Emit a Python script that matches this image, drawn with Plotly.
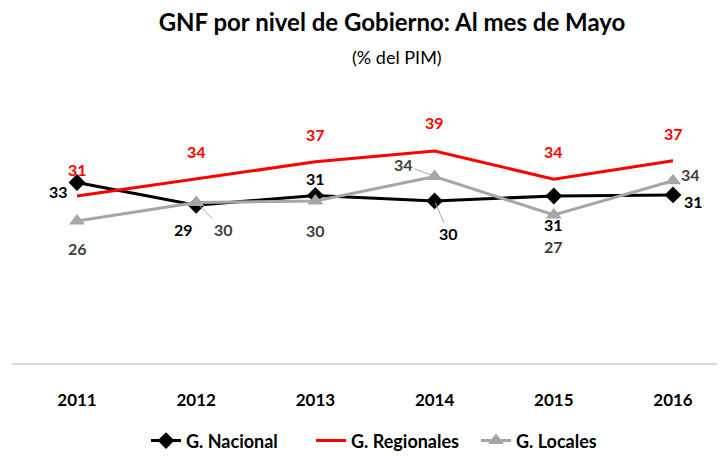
import plotly.graph_objects as go

years = ["2011", "2012", "2013", "2014", "2015", "2016"]
nacional = [33.3, 29.1, 30.9, 29.9, 30.8, 31.0]
regionales = [30.8, 34.0, 37.1, 39.1, 33.9, 37.3]
locales = [26.2, 29.6, 29.9, 34.4, 27.3, 33.6]

title = "GNF por nivel de Gobierno: Al mes de Mayo"
subtitle = "(% del PIM)"
series_names = ["G. Nacional", "G. Regionales", "G. Locales"]

FONT = "Lato, sans-serif"
OFF = 8  # default page body margin shifts the figure by this many pixels

# label offsets in pixels (dx, dy), dy positive = down
off_nac = [(-19, 9), (-13, 24), (0, -17), (14, 33), (0, 28), (20, 7)]
off_reg = [(0, -27), (0, -27), (0, -27), (0, -28), (0, -28), (0, -27)]
off_loc = [(0, 28), (27, 27), (0, 30), (-31, -12), (0, 32), (17, -6)]
leader_nac = [False, False, False, True, False, False]
leader_loc = [False, True, False, True, False, False]

fig = go.Figure()
fig.add_trace(go.Scatter(x=years, y=nacional, name=f"<b>{series_names[0]}</b>", mode="lines+markers",
                         line=dict(color="#000000", width=3),
                         marker=dict(symbol="diamond", size=13, color="#000000")))
fig.add_trace(go.Scatter(x=years, y=regionales, name=f"<b>{series_names[1]}</b>", mode="lines",
                         line=dict(color="#FF0000", width=3)))
fig.add_trace(go.Scatter(x=years, y=locales, name=f"<b>{series_names[2]}</b>", mode="lines+markers",
                         line=dict(color="#A6A6A6", width=3),
                         marker=dict(symbol="triangle-up", size=14, color="#A6A6A6")))

annotations = []


def add_labels(vals, offs, color, leaders=None):
    for i, v in enumerate(vals):
        dx, dy = offs[i]
        lead = leaders[i] if leaders else False
        common = dict(x=i, y=v, xref="x", yref="y", text=f"<b>{v:.0f}</b>",
                      xanchor="center", yanchor="middle",
                      font=dict(family=FONT, size=16, color=color))
        if lead:
            annotations.append(dict(showarrow=True, arrowhead=0, arrowwidth=1,
                                    arrowcolor="#A6A6A6", ax=dx, ay=dy, standoff=2, **common))
        else:
            annotations.append(dict(showarrow=False, xshift=dx, yshift=-dy, **common))


add_labels(nacional, off_nac, "#000000", leader_nac)
add_labels(regionales, off_reg, "#FF0000")
add_labels(locales, off_loc, "#404040", leader_loc)

# plot area in figure pixels
L, R, T, B = 12 - OFF, 725 - OFF, 366 - OFF - 247.5, 366 - OFF
PW, PH = R - L, B - T

annotations.append(dict(x=(397 - OFF - L) / PW, y=(B - (56 - OFF)) / PH,
                        xref="paper", yref="paper",
                        text=subtitle, showarrow=False, xanchor="center", yanchor="middle",
                        font=dict(family=FONT, size=18, color="#000000")))

x0 = 77 - OFF
step = (673 - 77) / 5

fig.update_layout(
    width=725, height=456,
    margin=dict(l=L, r=725 - R, t=T, b=456 - B),
    paper_bgcolor="white", plot_bgcolor="white",
    title=dict(text=f"<b>{title}</b>", x=(392 - OFF) / 725, xanchor="center",
               y=1 - 15 / 456, yanchor="middle",
               font=dict(family=FONT, size=24, color="#000000")),
    xaxis=dict(type="category", range=[-(x0 - L) / step, (R - x0) / step],
               showgrid=False, showline=True, linecolor="#D9D9D9",
               linewidth=2, ticks="outside", ticklen=21, tickcolor="rgba(0,0,0,0)",
               tickfont=dict(family=FONT, size=17, color="#000000"),
               tickvals=years, ticktext=[f"<b>{y}</b>" for y in years], zeroline=False),
    yaxis=dict(range=[0, 45], visible=False),
    showlegend=True,
    legend=dict(orientation="h", x=(146 - OFF - L) / PW, xanchor="left",
                y=(B - (445 - OFF)) / PH, yanchor="middle",
                font=dict(family=FONT, size=18, color="#000000"),
                itemwidth=30, tracegroupgap=0, entrywidth=120, entrywidthmode="pixels"),
    annotations=annotations,
)

fig.write_html("out.html")
